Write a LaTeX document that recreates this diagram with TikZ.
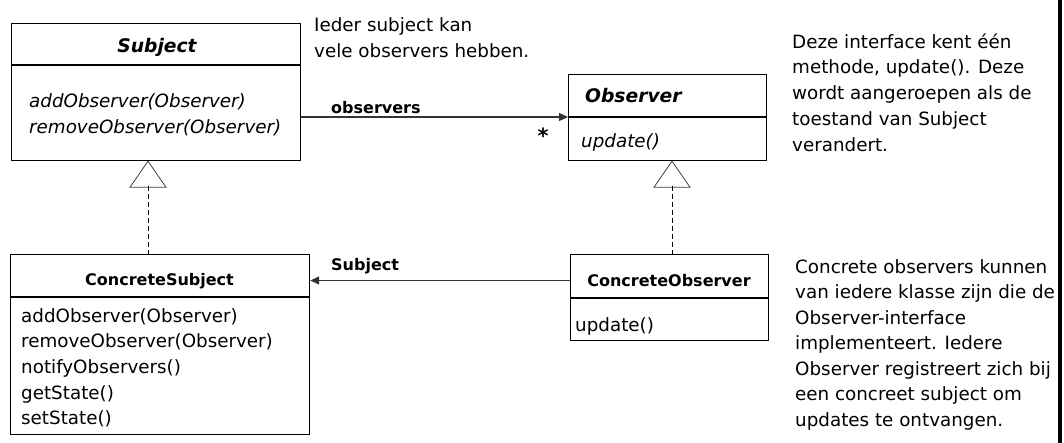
\documentclass[tikz,border=0pt]{standalone}
\usepackage{fontspec}
\setmainfont{DejaVu Sans}
\usetikzlibrary{arrows.meta}
\begin{document}
\begin{tikzpicture}[x=1pt,y=-1pt,
  box/.style={draw=black, line width=1.2pt, inner sep=0pt, anchor=north west},
  reg/.style={inner sep=0pt, anchor=base west, font=\fontsize{18.3}{25.7}\selectfont},
  ital/.style={inner sep=0pt, anchor=base west, font=\fontsize{18.3}{25.7}\selectfont\itshape},
  lbl/.style={inner sep=0pt, anchor=base west, font=\fontsize{16}{20}\selectfont\bfseries},
  ctitle/.style={inner sep=0pt, anchor=base, font=\fontsize{16}{20}\selectfont\bfseries},
  atitle/.style={inner sep=0pt, font=\fontsize{18.7}{22}\selectfont\bfseries\itshape},
  inh/.style={draw=black!75, line width=0.8pt, fill=white},
  dsh/.style={draw=black, line width=0.9pt, dash pattern=on 5pt off 3pt},
  assoc/.style={draw=black!80, line width=1.3pt, -{Triangle[length=9pt,width=8pt]}}
]
\useasboundingbox (0,0) rectangle (1064,443);

% class boxes
\node[box, minimum width=289pt, minimum height=137pt] (subj) at (11,23) {};
\node[box, minimum width=198pt, minimum height=86pt] (obs) at (568,74) {};
\node[box, minimum width=299pt, minimum height=180pt] (cs) at (10,254) {};
\node[box, minimum width=198pt, minimum height=86pt] (co) at (570,254) {};

% dividers
\draw[line width=1.2pt] (subj.west |- 0,65) -- (subj.east |- 0,65);
\draw[line width=1.2pt] (obs.west |- 0,117) -- (obs.east |- 0,117);
\draw[line width=1.2pt] (cs.west |- 0,297) -- (cs.east |- 0,297);
\draw[line width=1.2pt] (co.west |- 0,298) -- (co.east |- 0,298);

% Subject
\node[atitle, anchor=base] (subjt) at (157,53) {Subject};
\node[ital] (subjm1) at (29,108) {addObserver(Observer)};
\node[ital] (subjm2) at (29,133.7) {removeObserver(Observer)};

% Observer
\node[atitle, anchor=base west] (obst) at (585,103) {Observer};
\node[ital] (obsm1) at (581,148) {update()};

% ConcreteSubject
\node[ctitle] (cst) at (159.5,286) {ConcreteSubject};
\node[reg] (csm1) at (21,322) {addObserver(Observer)};
\node[reg] (csm2) at (21,347.7) {removeObserver(Observer)};
\node[reg] (csm3) at (21,373.4) {notifyObservers()};
\node[reg] (csm4) at (21,399.1) {getState()};
\node[reg] (csm5) at (21,424.8) {setState()};

% ConcreteObserver
\node[ctitle] (cot) at (669,286.5) {ConcreteObserver};
\node[reg] (com1) at (575,331) {update()};

% inheritance
\coordinate (t1) at (148,186);
\coordinate (t2) at (672,186);
\draw[inh] (subj.south -| t1) -- ++(-18,26) -- ++(36,0) -- cycle;
\draw[inh] (obs.south -| t2) -- ++(-18,26) -- ++(36,0) -- cycle;
\draw[dsh] (t1) -- (t1 |- cs.north);
\draw[dsh] (t2) -- (t2 |- co.north);

% associations
\draw[assoc] (subj.east |- 0,117) -- (obs.west |- 0,117);
\node[lbl] (obslbl) at (331,114) {observers};
\node[inner sep=0pt, anchor=base, font=\fontsize{21}{24}\selectfont\bfseries] (star) at (543,144) {*};
\draw[assoc] (co.west |- 0,280.5) -- (cs.east |- 0,280.5);
\node[lbl] (subjlbl) at (331,271) {Subject};

% notes
\node[reg] (n1a) at (314,32) {Ieder subject kan};
\node[reg] (n1b) at (314,57.5) {vele observers hebben.};

\node[reg] (n2a) at (792,48.3) {Deze interface kent één};
\node[reg] (n2b) at (792,74) {methode, update(). Deze};
\node[reg] (n2c) at (792,99.7) {wordt aangeroepen als de};
\node[reg] (n2d) at (792,125.4) {toestand van Subject};
\node[reg] (n2e) at (792,151.1) {verandert.};

\node[reg] (n3a) at (795,273.3) {Concrete observers kunnen};
\node[reg] (n3b) at (795,298.8) {van iedere klasse zijn die de};
\node[reg] (n3c) at (795,324.3) {Observer-interface};
\node[reg] (n3d) at (795,349.8) {implementeert. Iedere};
\node[reg] (n3e) at (795,375.3) {Observer registreert zich bij};
\node[reg] (n3f) at (795,400.8) {een concreet subject om};
\node[reg] (n3g) at (795,426.3) {updates te ontvangen.};

% right edge bar
\fill[black] (1058,0) rectangle (1062,443);
\end{tikzpicture}
\end{document}
